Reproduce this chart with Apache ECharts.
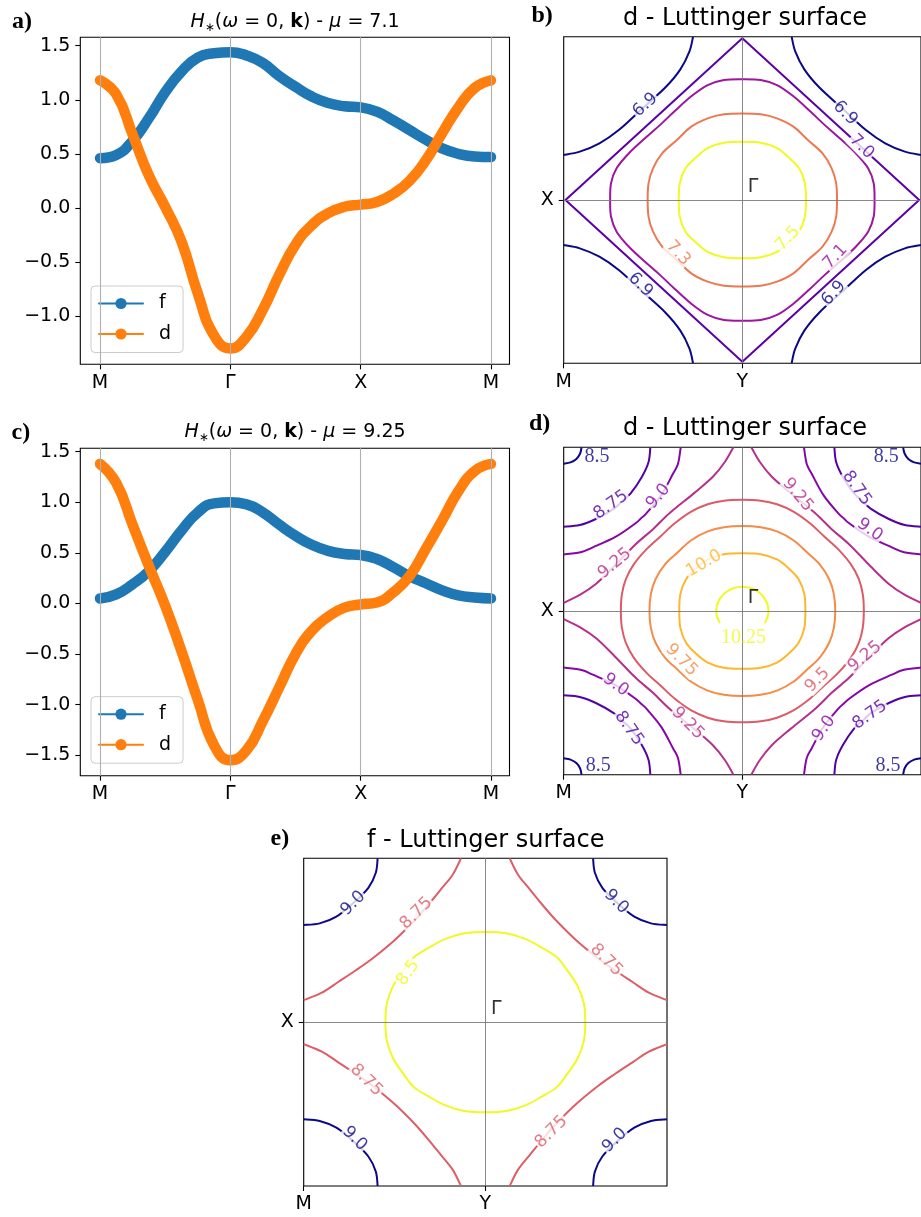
<!DOCTYPE html>
<html><head><meta charset="utf-8">
<script src="https://cdn.jsdelivr.net/npm/echarts@6.0.0/dist/echarts.min.js"></script>
<style>html,body{margin:0;padding:0;background:#fff}#c{width:921px;height:1217px}</style>
</head><body><div id="c"></div>
<script>
// ---------------- data ----------------
const pathTicks = [0, 1, 2, 3];
const pathNames = ['M', 'Γ', 'X', 'M'];
const xPath = [0,0.125,0.25,0.375,0.5,0.625,0.75,0.875,1,1.125,1.25,1.375,1.5,1.625,1.75,1.875,2,2.125,2.25,2.375,2.5,2.625,2.75,2.875,3];
// panel a (mu = 7.1)
const fA = [0.46,0.49,0.62,0.83,1.07,1.26,1.39,1.43,1.44,1.41,1.34,1.22,1.12,1.03,0.97,0.94,0.93,0.89,0.81,0.72,0.63,0.55,0.50,0.475,0.47];
const dA = [1.18,1.05,0.68,0.30,0.01,-0.31,-0.79,-1.18,-1.30,-1.19,-0.94,-0.62,-0.34,-0.16,-0.05,0.01,0.03,0.055,0.13,0.25,0.44,0.69,0.93,1.11,1.18];
// panel c (mu = 9.25)
const fC = [0.05,0.09,0.19,0.32,0.51,0.72,0.90,0.99,1.00,0.98,0.90,0.78,0.67,0.58,0.52,0.49,0.48,0.44,0.36,0.27,0.20,0.13,0.08,0.06,0.05];
const dC = [1.38,1.19,0.78,0.37,-0.02,-0.47,-0.95,-1.40,-1.55,-1.45,-1.16,-0.83,-0.50,-0.27,-0.13,-0.04,-0.01,0.01,0.11,0.27,0.54,0.82,1.11,1.31,1.38];
const yTicksA = [-1, -0.5, 0, 0.5, 1, 1.5];
const yTicksC = [-1.5, -1, -0.5, 0, 0.5, 1, 1.5];
// Brillouin zone axes (normalised k: M at -1, Gamma at 0)
const bzTicksX = [-1, 0];
const bzNamesX = ['M', 'Y'];
const bzTicksY = [0];
const bzNamesY = ['X'];

// contour points, upper-left quadrant; closed: from top axis to left axis; open: from left edge to top edge
// panel b : d - Luttinger surface (mu = 7.1)
const b75 = [[0,0.356],[-0.103,0.35],[-0.194,0.318],[-0.26,0.26],[-0.318,0.194],[-0.35,0.103],[-0.356,0]];
const b73 = [[0,0.53],[-0.103,0.525],[-0.194,0.5],[-0.286,0.449],[-0.367,0.367],[-0.449,0.286],[-0.5,0.194],[-0.525,0.103],[-0.53,0]];
const b71 = [[0,0.74],[-0.103,0.735],[-0.194,0.704],[-0.286,0.635],[-0.378,0.545],[-0.46,0.46],[-0.545,0.378],[-0.635,0.286],[-0.704,0.194],[-0.735,0.103],[-0.74,0]];
const b70 = [[0,0.99],[-0.99,0]];
const b69 = [[-1,0.276],[-0.91,0.296],[-0.8,0.347],[-0.69,0.43],[-0.56,0.56],[-0.43,0.69],[-0.347,0.8],[-0.296,0.91],[-0.276,1]];
// panel d : d - Luttinger surface (mu = 9.25)
const d1025 = [[0.126,-0.074],[0.144,-0.026],[0.144,0.026],[0.126,0.074],[0.094,0.113],[0.05,0.139],[0,0.148],[-0.05,0.139],[-0.094,0.113],[-0.126,0.074],[-0.144,0.026],[-0.144,-0.026],[-0.126,-0.074]];
const d100 = [[0,0.353],[-0.103,0.347],[-0.194,0.315],[-0.26,0.26],[-0.315,0.194],[-0.347,0.103],[-0.353,0]];
const d975 = [[0,0.52],[-0.103,0.512],[-0.194,0.486],[-0.286,0.432],[-0.36,0.36],[-0.432,0.286],[-0.486,0.194],[-0.512,0.103],[-0.52,0]];
const d95 = [[0,0.68],[-0.103,0.674],[-0.194,0.652],[-0.286,0.607],[-0.378,0.536],[-0.457,0.457],[-0.536,0.378],[-0.607,0.286],[-0.652,0.194],[-0.674,0.103],[-0.68,0]];
const d925 = [[-1,0.05],[-0.91,0.098],[-0.82,0.165],[-0.72,0.27],[-0.6,0.405],[-0.5,0.5],[-0.405,0.6],[-0.27,0.72],[-0.165,0.82],[-0.098,0.91],[-0.05,1]];
const d90 = [[-1,0.345],[-0.9,0.36],[-0.837,0.389],[-0.708,0.454],[-0.598,0.536],[-0.567,0.567],[-0.536,0.598],[-0.454,0.708],[-0.389,0.837],[-0.36,0.9],[-0.345,1]];
const d875 = [[-1,0.515],[-0.91,0.525],[-0.82,0.562],[-0.72,0.624],[-0.672,0.672],[-0.624,0.72],[-0.562,0.82],[-0.525,0.91],[-0.515,1]];
const d85 = [[-1,0.9],[-0.962,0.908],[-0.929,0.929],[-0.908,0.962],[-0.9,1]];
// panel e : f - Luttinger surface
const e85 = [[0,0.55],[-0.116,0.542],[-0.22,0.508],[-0.31,0.455],[-0.395,0.395],[-0.455,0.31],[-0.508,0.22],[-0.542,0.116],[-0.55,0]];
const e875 = [[-1,0.134],[-0.9,0.18],[-0.81,0.245],[-0.715,0.315],[-0.62,0.39],[-0.5,0.5],[-0.39,0.62],[-0.315,0.715],[-0.245,0.81],[-0.18,0.9],[-0.134,1]];
const e90 = [[-1,0.593],[-0.912,0.603],[-0.82,0.644],[-0.727,0.727],[-0.644,0.82],[-0.603,0.912],[-0.593,1]];

// contour labels: [text, u, v, rotation]
const bLabels = [['6.9',-0.543,0.582,42],['6.9',0.576,0.531,-45],['7.0',0.668,0.326,-45],['7.1',0.521,-0.347,47],
  ['6.9',0.512,-0.571,48],['6.9',-0.57,-0.52,-45],['7.3',-0.359,-0.326,-47],['7.5',0.255,-0.235,47]];
const dLabels = [['8.75',-0.736,0.648,35],['9.0',-0.47,0.70,50],['9.25',-0.714,0.29,40],['10.0',-0.215,0.29,30],
  ['9.25',0.31,0.709,-50],['8.75',0.64,0.75,-55],['9.0',0.714,0.495,-35],
  ['9.75',-0.341,-0.3,-45],['9.0',-0.708,-0.452,-35],['8.75',-0.635,-0.717,-55],['9.25',-0.305,-0.686,-45],
  ['9.5',0.42,-0.422,45],['9.25',0.686,-0.279,40],['9.0',0.457,-0.717,55],['8.75',0.714,-0.635,35]];
const dSerifLabels = [['8.5',-0.813,0.943,0],['8.5',0.806,0.943,0],['8.5',-0.806,-0.945,0],['8.5',0.815,-0.945,0],['10.25',0.007,-0.161,0]];
const eLabels = [['9.0',-0.728,0.725,45],['8.75',-0.38,0.664,45],['9.0',0.721,0.735,-45],['8.75',0.666,0.379,-45],
  ['8.5',-0.425,0.3,55],['8.75',-0.655,-0.354,-45],['9.0',-0.719,-0.711,-45],['8.75',0.363,-0.67,45],['9.0',0.712,-0.721,45]];
const gammaPos = [0.06, 0.08];

// ---------------- styles ----------------
const FONT = 'DejaVu Sans';
const BLUE = '#1f77b4', ORANGE = '#ff7f0e';
const colB = {'6.9':'#0d0887','7.0':'#5c01a6','7.1':'#9c179e','7.3':'#ed7953','7.5':'#f0f921'};
const colD = {'8.5':'#0d0887','8.75':'#5302a3','9.0':'#8707a6','9.25':'#b6308b','9.5':'#db5c68','9.75':'#f58b47','10.0':'#feb62d','10.25':'#f0f921'};
const colE = {'8.5':'#f0f921','8.75':'#dd5e66','9.0':'#0d0887'};

// closed curve from one quadrant (mirror symmetry of the Brillouin zone)
function loop(Q) {
  const UL = Q.map(p => [p[0], p[1]]);
  const LL = Q.slice().reverse().map(p => [p[0], -p[1]]).slice(1);
  const LR = Q.map(p => [-p[0], -p[1]]).slice(1);
  const UR = Q.slice().reverse().map(p => [-p[0], p[1]]).slice(1);
  const arr = UL.concat(LL, LR, UR);
  arr.pop(); // last equals first
  return arr;
}
function corners(Q) {
  return [Q, Q.map(p => [-p[0], p[1]]), Q.map(p => [p[0], -p[1]]), Q.map(p => [-p[0], -p[1]])];
}

// smooth path through pixel points (Catmull-Rom)
function crPath(P, closed, sharp) {
  const n = P.length;
  const f = v => v.toFixed(2);
  let d = 'M' + f(P[0][0]) + ' ' + f(P[0][1]);
  if (sharp) {
    for (let i = 1; i < n; i++) d += 'L' + f(P[i][0]) + ' ' + f(P[i][1]);
    return d + (closed ? 'Z' : '');
  }
  const get = i => closed ? P[(i + n) % n] : P[Math.max(0, Math.min(n - 1, i))];
  const segs = closed ? n : n - 1;
  for (let i = 0; i < segs; i++) {
    const p0 = get(i - 1), p1 = get(i), p2 = get(i + 1), p3 = get(i + 2);
    const c1x = p1[0] + (p2[0] - p0[0]) / 6, c1y = p1[1] + (p2[1] - p0[1]) / 6;
    const c2x = p2[0] - (p3[0] - p1[0]) / 6, c2y = p2[1] - (p3[1] - p1[1]) / 6;
    d += 'C' + f(c1x) + ' ' + f(c1y) + ' ' + f(c2x) + ' ' + f(c2y) + ' ' + f(p2[0]) + ' ' + f(p2[1]);
  }
  return d + (closed ? 'Z' : '');
}

const series = [];
const contourDefs = [];
function addGuides(gi, marks, color, width) {
  series.push({type:'line', xAxisIndex:gi, yAxisIndex:gi, data:[], z:1, silent:true,
    markLine:{silent:true, symbol:['none','none'], label:{show:false}, animation:false,
      lineStyle:{color:color, width:width, type:'solid'}, emphasis:{disabled:true}, data:marks}});
}
function addPath(gi, vals, color, name) {
  series.push({name:name, type:'line', xAxisIndex:gi, yAxisIndex:gi,
    data: xPath.map((x, i) => [x, vals[i]]), symbol:'circle', symbolSize:8, showSymbol:false,
    smooth:0.5, z:3, lineStyle:{width:10.5, color:color, cap:'round', join:'round'},
    itemStyle:{color:color, borderWidth:0}, emphasis:{disabled:true}});
}
function addContour(gi, pts, color, closed, sharp) {
  const idx = contourDefs.length;
  contourDefs.push({pts:pts, color:color, closed:!!closed, sharp:!!sharp});
  series.push({type:'custom', xAxisIndex:gi, yAxisIndex:gi, silent:true, z:3, clip:true,
    data:[[pts[0][0], pts[0][1], idx]], encode:{x:0, y:1},
    renderItem:function (params, api) {
      const def = contourDefs[api.value(2)];
      const P = def.pts.map(p => api.coord(p));
      return {type:'path', shape:{pathData:crPath(P, def.closed, def.sharp)},
        style:{stroke:def.color, lineWidth:2, fill:'none', lineJoin:'round'}};
    }});
}
function addLabels(gi, list, colors, serif) {
  series.push({type:'scatter', xAxisIndex:gi, yAxisIndex:gi, symbolSize:1, silent:true, z:6,
    itemStyle:{color:'rgba(0,0,0,0)'},
    data: list.map(l => ({value:[l[1], l[2]], label:{show:true, position:'inside', formatter:l[0],
      rotate:l[3], color:colors[l[0]], fontSize: serif ? 20 : 17, lineHeight: serif ? 20 : 17,
      fontFamily: serif ? 'Liberation Serif' : FONT,
      backgroundColor: serif ? 'transparent' : '#fff', padding:[0,1]}}))});
}
function addGamma(gi) {
  series.push({type:'scatter', xAxisIndex:gi, yAxisIndex:gi, symbolSize:1, silent:true, z:6,
    itemStyle:{color:'rgba(0,0,0,0)'},
    data:[{value:gammaPos, label:{show:true, position:'inside', formatter:'Γ', color:'#000', fontSize:19, fontFamily:FONT}}]});
}

// panel a (grid 0) and c (grid 2)
addGuides(0, pathTicks.map(x => ({xAxis:x})), '#b0b0b0', 1.1);
addPath(0, fA, BLUE, 'f');
addPath(0, dA, ORANGE, 'd');
addGuides(2, pathTicks.map(x => ({xAxis:x})), '#b0b0b0', 1.1);
addPath(2, fC, BLUE, 'f');
addPath(2, dC, ORANGE, 'd');

// panel b (grid 1)
addGuides(1, [{xAxis:0},{yAxis:0}], '#7a7a7a', 0.9);
corners(b69).forEach(c => addContour(1, c, colB['6.9']));
addContour(1, loop(b70), colB['7.0'], true, true);
addContour(1, loop(b71), colB['7.1'], true);
addContour(1, loop(b73), colB['7.3'], true);
addContour(1, loop(b75), colB['7.5'], true);
addLabels(1, bLabels, colB, false);
addGamma(1);

// panel d (grid 3)
addGuides(3, [{xAxis:0},{yAxis:0}], '#7a7a7a', 0.9);
corners(d85).forEach(c => addContour(3, c, colD['8.5']));
corners(d875).forEach(c => addContour(3, c, colD['8.75']));
corners(d90).forEach(c => addContour(3, c, colD['9.0']));
corners(d925).forEach(c => addContour(3, c, colD['9.25']));
addContour(3, loop(d95), colD['9.5'], true);
addContour(3, loop(d975), colD['9.75'], true);
addContour(3, loop(d100), colD['10.0'], true);
addContour(3, d1025, colD['10.25'], false);
addLabels(3, dLabels, colD, false);
addLabels(3, dSerifLabels, colD, true);
addGamma(3);

// panel e (grid 4)
addGuides(4, [{xAxis:0},{yAxis:0}], '#7a7a7a', 0.9);
corners(e90).forEach(c => addContour(4, c, colE['9.0']));
corners(e875).forEach(c => addContour(4, c, colE['8.75']));
addContour(4, loop(e85), colE['8.5'], true);
addLabels(4, eLabels, colE, false);
addGamma(4);

// ---------------- axes ----------------
const tickStyle = {length:5, lineStyle:{color:'#000', width:1.1}};
const labStyle = {color:'#000', fontSize:19, fontFamily:FONT};
function fmtNum(v) { const s = Math.abs(v).toFixed(1); return v < 0 ? '\u2212' + s : s; }
function pathX(gi) {
  return {type:'value', gridIndex:gi, min:-0.151, max:3.142, axisLine:{show:false, onZero:false}, splitLine:{show:false},
    axisTick:Object.assign({customValues:pathTicks}, tickStyle),
    axisLabel:Object.assign({customValues:pathTicks, margin:9, formatter:v => pathNames[pathTicks.indexOf(v)]}, labStyle)};
}
function valY(gi, min, max, ticks) {
  return {type:'value', gridIndex:gi, min:min, max:max, axisLine:{show:false, onZero:false}, splitLine:{show:false},
    axisTick:Object.assign({customValues:ticks}, tickStyle),
    axisLabel:Object.assign({customValues:ticks, margin:10, formatter:fmtNum}, labStyle)};
}
function bzX(gi) {
  return {type:'value', gridIndex:gi, min:-1, max:1, axisLine:{show:false, onZero:false}, splitLine:{show:false},
    axisTick:Object.assign({customValues:bzTicksX}, tickStyle),
    axisLabel:Object.assign({customValues:bzTicksX, margin:9, showMinLabel:true, formatter:v => bzNamesX[bzTicksX.indexOf(v)]}, labStyle)};
}
function bzY(gi) {
  return {type:'value', gridIndex:gi, min:-1, max:1, axisLine:{show:false, onZero:false}, splitLine:{show:false},
    axisTick:Object.assign({customValues:bzTicksY}, tickStyle),
    axisLabel:Object.assign({customValues:bzTicksY, margin:10, formatter:v => bzNamesY[bzTicksY.indexOf(v)]}, labStyle)};
}

const gridBase = {show:true, borderColor:'#000', borderWidth:1.1, backgroundColor:'rgba(0,0,0,0)', containLabel:false};
const grids = [
  {left:80.3, top:37.3, width:429.2, height:327},
  {left:563.7, top:36.7, width:363.4, height:326.6},
  {left:80.3, top:448.3, width:429.2, height:327.4},
  {left:563.7, top:447.3, width:363.4, height:327.4},
  {left:303.7, top:858.3, width:363.3, height:327.7}
].map(g => Object.assign({}, gridBase, g));

function letter(t, x, top) {
  return {text:t, left:x, top:top, padding:0, textStyle:{fontFamily:'Liberation Serif', fontWeight:'bold', fontSize:24, lineHeight:26, color:'#000'}};
}
const richH = {
  i:{fontStyle:'italic', fontSize:19, fontFamily:FONT, color:'#000', lineHeight:24},
  b:{fontWeight:'bold', fontSize:19, fontFamily:FONT, color:'#000', lineHeight:24},
  s:{fontSize:12, fontFamily:FONT, color:'#000', lineHeight:12, verticalAlign:'bottom'}
};
function hTitle(mu, cx, top) {
  return {text:'{i|H}{s|\u2217}({i|ω} = 0, {b|k}) - {i|μ} = ' + mu, left:cx, top:top, textAlign:'center', padding:0,
    textStyle:{fontFamily:FONT, fontWeight:'normal', fontSize:19, lineHeight:24, color:'#000', rich:richH}};
}
function lTitle(t, cx, top) {
  return {text:t, left:cx, top:top, textAlign:'center', padding:0,
    textStyle:{fontFamily:FONT, fontWeight:'normal', fontSize:24, lineHeight:28, color:'#000'}};
}

function legendAt(top) {
  return {data:['f','d'], left:91, top:top, orient:'vertical', selectedMode:false,
    itemWidth:44, itemHeight:14, itemGap:11.5, padding:[8,12,9,7],
    backgroundColor:'rgba(255,255,255,0.8)', borderColor:'#cccccc', borderWidth:1, borderRadius:4,
    lineStyle:{width:2}, itemStyle:{borderWidth:0},
    textStyle:{fontFamily:FONT, fontSize:19, lineHeight:19, color:'#000', padding:[0,0,0,11]}};
}

const option = {
  animation:false,
  backgroundColor:'#fff',
  textStyle:{fontFamily:FONT},
  title:[
    letter('a)', 12, 8.5), letter('b)', 531.5, 2.8), letter('c)', 11.5, 419.5), letter('d)', 529, 411), letter('e)', 270.5, 825.3),
    hTitle('7.1', 295, 9.7), hTitle('9.25', 295, 420.3),
    lTitle('d - Luttinger surface', 745, 4.3), lTitle('d - Luttinger surface', 745, 415), lTitle('f - Luttinger surface', 485.7, 826.5)
  ],
  legend:[legendAt(286), legendAt(696.7)],
  grid:grids,
  xAxis:[pathX(0), bzX(1), pathX(2), bzX(3), bzX(4)],
  yAxis:[valY(0, -1.447, 1.578, yTicksA), bzY(1), valY(2, -1.702, 1.534, yTicksC), bzY(3), bzY(4)],
  series:series
};

const chart = echarts.init(document.getElementById('c'), null, {renderer:'canvas'});
chart.setOption(option);
</script></body></html>
